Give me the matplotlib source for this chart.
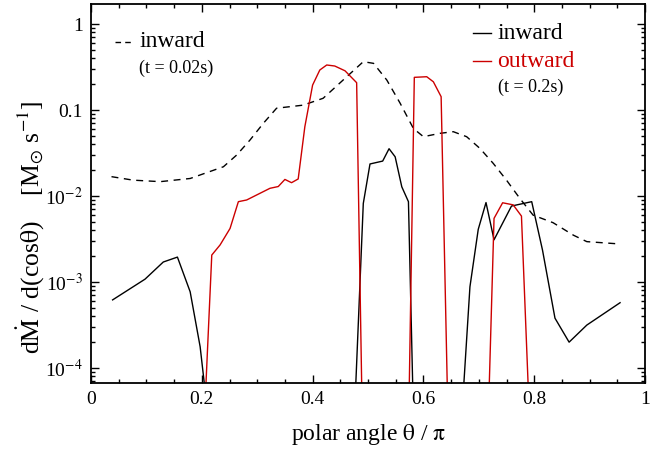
import numpy as np
import matplotlib
matplotlib.use("Agg")
import matplotlib.pyplot as plt
from matplotlib.ticker import FixedLocator, FixedFormatter, MultipleLocator, LogLocator, NullFormatter

plt.rcParams['font.family'] = ['Liberation Serif', 'DejaVu Serif']
plt.rcParams['mathtext.fontset'] = 'stix'

# inward, t = 0.02 s (dashed)
theta_early = [0.037, 0.076, 0.125, 0.179, 0.239, 0.263, 0.287, 0.311, 0.335, 0.383, 0.419,
               0.455, 0.4915, 0.51, 0.534, 0.558, 0.582, 0.60, 0.63, 0.654, 0.678, 0.702,
               0.726, 0.75, 0.774, 0.798, 0.834, 0.871, 0.895, 0.955]
mdot_early = [0.0168, 0.0153, 0.0147, 0.016, 0.0219, 0.030, 0.0448, 0.070, 0.105, 0.114, 0.137,
              0.223, 0.365, 0.349, 0.223, 0.12, 0.061, 0.049, 0.0536, 0.056, 0.049, 0.0358,
              0.024, 0.0153, 0.0094, 0.006, 0.0049, 0.0035, 0.00295, 0.00277]

# inward, t = 0.2 s (black)
theta_in = [0.039, 0.0975, 0.1305, 0.156, 0.179, 0.197, 0.219, 0.4727, 0.4915, 0.5036, 0.5265,
            0.538, 0.549, 0.561, 0.573, 0.5836, 0.665, 0.684, 0.699, 0.713, 0.7275, 0.759,
            0.7955, 0.815, 0.8375, 0.863, 0.895, 0.955]
mdot_in = [6.2e-4, 1.08e-3, 1.71e-3, 1.95e-3, 7.7e-4, 1.77e-4, 1e-5, 1e-5, 8.2e-3, 0.0236, 0.0255,
           0.0355, 0.0286, 0.0128, 8.6e-3, 1e-5, 1e-5, 8.8e-4, 4.1e-3, 8.4e-3, 3.1e-3, 7.65e-3,
           8.6e-3, 2.35e-3, 3.8e-4, 2.0e-4, 3.16e-4, 5.75e-4]

# outward, t = 0.2 s (red)
theta_out = [0.2018, 0.218, 0.233, 0.251, 0.266, 0.281, 0.323, 0.338, 0.350, 0.362, 0.374, 0.386,
             0.400, 0.413, 0.4255, 0.440, 0.4585, 0.4795, 0.4907, 0.5725, 0.5836, 0.606, 0.618,
             0.632, 0.6457, 0.7153, 0.7275, 0.743, 0.762, 0.777, 0.794]
mdot_out = [1e-5, 2.06e-3, 2.7e-3, 4.2e-3, 8.6e-3, 9.0e-3, 0.0123, 0.0129, 0.0156, 0.0143, 0.0158,
            0.064, 0.195, 0.292, 0.334, 0.325, 0.286, 0.208, 1e-5, 1e-5, 0.24, 0.244, 0.213,
            0.143, 1e-5, 1e-5, 5.5e-3, 8.35e-3, 7.9e-3, 5.85e-3, 1e-5]

ytick_vals = [1e-4, 1e-3, 1e-2, 0.1, 1]
ytick_labels = ['10$^{-4}$', '10$^{-3}$', '10$^{-2}$', '0.1', '1']
xtick_vals = [0, 0.2, 0.4, 0.6, 0.8, 1]
xtick_labels = ['0', '0.2', '0.4', '0.6', '0.8', '1']

RED = '#cc0000'

fig = plt.figure(figsize=(6.57, 4.53), dpi=100)
ax = fig.add_axes([91/657, 70/453, 554/657, 379/453])

ax.plot(theta_early, mdot_early, color='black', lw=1.0, dashes=(5, 4))
ax.plot(theta_in, mdot_in, color='black', lw=1.0)
ax.plot(theta_out, mdot_out, color=RED, lw=1.0)

ax.set_yscale('log')
ax.set_xlim(0, 1)
ax.set_ylim(6.7e-5, 1.71)

ax.xaxis.set_major_locator(FixedLocator(xtick_vals))
ax.xaxis.set_major_formatter(FixedFormatter(xtick_labels))
ax.xaxis.set_minor_locator(MultipleLocator(0.05))
ax.yaxis.set_major_locator(FixedLocator(ytick_vals))
ax.yaxis.set_major_formatter(FixedFormatter(ytick_labels))
ax.yaxis.set_minor_locator(LogLocator(base=10, subs=np.arange(2, 10)))
ax.yaxis.set_minor_formatter(NullFormatter())

ax.tick_params(which='both', direction='in', top=True, right=True, labelsize=14, width=1.0)
ax.tick_params(which='major', length=6, pad=6)
ax.tick_params(which='minor', length=3)
for s in ax.spines.values():
    s.set_linewidth(1.3)

ax.set_xlabel(r'polar angle $\mathrm{\theta}$ / $\mathrm{\pi}$', fontsize=17, labelpad=10)
ax.set_ylabel(r'd$\mathrm{\dot{M}}$ / d(cos$\mathrm{\theta}$)    [M$_{\odot}$ s$^{\mathrm{-1}}$]',
              fontsize=18.5)
ax.yaxis.set_label_coords(-0.082, 0.41)

def ax_xy(px, py):
    return (px - 91) / 554, (383 - py) / 379

# left legend (t = 0.02s)
x0, y0 = ax_xy(115, 41.7)
x1, _ = ax_xy(133, 41.7)
ax.plot([x0, x1], [y0, y0], transform=ax.transAxes, color='black', lw=1.0, dashes=(4, 3))
tx, ty = ax_xy(140, 41.7)
ax.text(tx, ty, 'inward', transform=ax.transAxes, fontsize=17, va='center', ha='left')
tx, ty = ax_xy(139, 68)
ax.text(tx, ty, '(t = 0.02s)', transform=ax.transAxes, fontsize=13, va='center', ha='left')

# right legend (t = 0.2s)
for py, col, lab in [(33.3, 'black', 'inward'), (61.5, RED, 'outward')]:
    x0, y0 = ax_xy(473.3, py)
    x1, _ = ax_xy(491, py)
    ax.plot([x0, x1], [y0, y0], transform=ax.transAxes, color=col, lw=1.0)
    tx, ty = ax_xy(497, py)
    ax.text(tx, ty, lab, transform=ax.transAxes, fontsize=17, va='center', ha='left', color=col)
tx, ty = ax_xy(498, 87.3)
ax.text(tx, ty, '(t = 0.2s)', transform=ax.transAxes, fontsize=13, va='center', ha='left')

fig.savefig('out.png', dpi=100)
